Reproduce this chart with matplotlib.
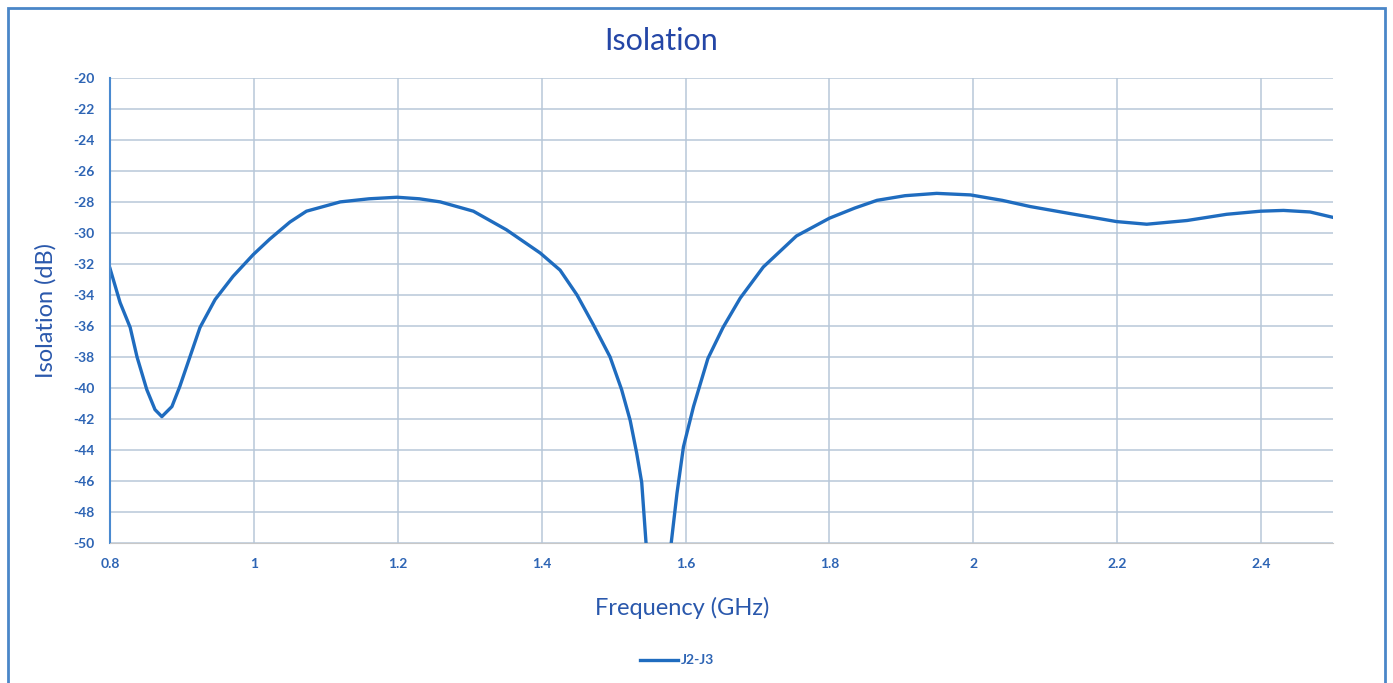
import matplotlib.pyplot as plt
from matplotlib.patches import Rectangle

plt.rcParams['font.family'] = ['Lato', 'DejaVu Sans']
plt.rcParams['axes.unicode_minus'] = False

# J2-J3 isolation
freq_ghz = [0.800, 0.814, 0.828, 0.8375, 0.851, 0.8625, 0.872, 0.886, 0.897, 0.911,
            0.925, 0.946, 0.971, 0.999, 1.022, 1.050, 1.073, 1.120, 1.160, 1.199,
            1.230, 1.259, 1.305, 1.351, 1.398, 1.4255, 1.449, 1.4715, 1.495, 1.511,
            1.523, 1.532, 1.539, 1.545, 1.552, 1.562, 1.572, 1.580, 1.588, 1.597,
            1.611, 1.631, 1.652, 1.676, 1.708, 1.754, 1.800, 1.835, 1.866, 1.905,
            1.949, 1.996, 2.040, 2.079, 2.134, 2.199, 2.241, 2.297, 2.352, 2.399,
            2.431, 2.468, 2.500]
isolation_db = [-32.3, -34.5, -36.1, -38.0, -40.1, -41.4, -41.85, -41.2, -39.9, -38.0,
                -36.1, -34.3, -32.8, -31.4, -30.4, -29.3, -28.6, -28.0, -27.8, -27.7,
                -27.8, -28.0, -28.6, -29.8, -31.3, -32.4, -34.0, -35.9, -38.0, -40.1,
                -42.1, -44.2, -46.1, -50.0, -54.0, -62.0, -54.0, -50.0, -46.8, -43.8,
                -41.2, -38.1, -36.1, -34.2, -32.2, -30.2, -29.05, -28.4, -27.9, -27.6,
                -27.45, -27.55, -27.9, -28.3, -28.75, -29.27, -29.44, -29.2, -28.8, -28.6,
                -28.55, -28.65, -29.0]

xticks = [0.8, 1.0, 1.2, 1.4, 1.6, 1.8, 2.0, 2.2, 2.4]
xtick_labels = ['0.8', '1', '1.2', '1.4', '1.6', '1.8', '2', '2.2', '2.4']
yticks = list(range(-50, -18, 2))

tick_blue = '#2d64b4'
label_blue = '#2a58ac'
title_blue = '#2446a6'
line_blue = '#1f6cbf'

fig = plt.figure(figsize=(13.93, 6.83), dpi=100)
ax = fig.add_axes([0.079, 0.205, 0.878, 0.681])

ax.plot(freq_ghz, isolation_db, color=line_blue, lw=2.4, label='J2-J3',
        solid_joinstyle='round')
ax.set_xlim(0.8, 2.5)
ax.set_ylim(-50, -20)
ax.set_xticks(xticks)
ax.set_xticklabels(xtick_labels)
ax.set_yticks(yticks)
ax.grid(True, color='#b8c8d8', lw=1.1)
ax.set_axisbelow(True)
for s in ['top', 'right']:
    ax.spines[s].set_visible(False)
ax.spines['bottom'].set_color('#c8c8c8')
ax.spines['left'].set_color('#4a8ad0')
ax.spines['left'].set_linewidth(1.5)
ax.tick_params(length=0, pad=11, labelsize=10, labelcolor=tick_blue)
for lbl in ax.get_xticklabels() + ax.get_yticklabels():
    lbl.set_fontweight('bold')

fig.text(0.4745, 0.940, 'Isolation', fontsize=22, color=title_blue,
         ha='center', va='center')
fig.text(0.490, 0.110, 'Frequency (GHz)', fontsize=17, color=label_blue,
         ha='center', va='center')
ax.set_ylabel('Isolation (dB)', fontsize=17, color=label_blue, labelpad=12)

leg = fig.legend(loc='center', bbox_to_anchor=(0.486, 0.033), frameon=False,
                 handlelength=2.8, handletextpad=0.2,
                 prop={'weight': 'bold', 'size': 10})
for t in leg.get_texts():
    t.set_color(tick_blue)

fig.patches.append(Rectangle((0.006, -0.02), 0.988, 1.008, transform=fig.transFigure,
                             fill=False, edgecolor='#4a86c8', lw=2))

fig.savefig('out.png', dpi=100)
